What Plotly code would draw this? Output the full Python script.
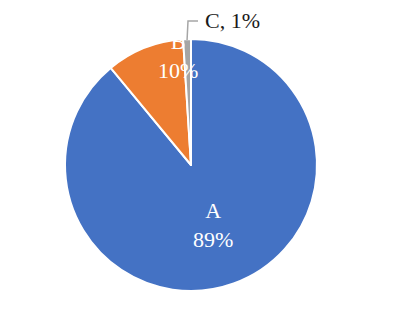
import math
import plotly.graph_objects as go

labels = ["A", "B", "C"]
values = [89, 10, 1]
colors = ["#4472C4", "#ED7D31", "#A5A5A5"]

W, H = 398, 316
cx, cy, R = 191, 165, 126

def px(x):
    return x / W

def py(y):
    return 1 - y / H

total = sum(values)
pct = [round(100 * v / total) for v in values]

fig = go.Figure(go.Pie(
    labels=labels, values=values, sort=False, direction="clockwise", rotation=0,
    marker=dict(colors=colors, line=dict(color="white", width=2)),
    textinfo="none", hoverinfo="label+percent",
    domain=dict(x=[px(cx - R), px(cx + R)], y=[py(cy + R), py(cy - R)]),
    showlegend=False,
))

font = "Liberation Serif, Times New Roman, serif"
ann = []
cum = 0
mids = []
for v in values:
    mids.append(2 * math.pi * (cum + v / 2) / total)
    cum += v
rA = 0.51 * R
ax = cx + rA * math.sin(mids[0])
ay = cy - rA * math.cos(mids[0])
ann.append(dict(x=px(ax), y=py(ay), xref="paper", yref="paper", showarrow=False,
                xanchor="center", yanchor="middle",
                text=f"{labels[0]}<br>{pct[0]}%", font=dict(family=font, size=22, color="white")))
ann.append(dict(x=px(178), y=py(56), xref="paper", yref="paper", showarrow=False,
                xanchor="center", yanchor="middle",
                text=f"{labels[1]}<br>{pct[1]}%", font=dict(family=font, size=22, color="white")))
ann.append(dict(x=px(203), y=py(20), xref="paper", yref="paper", showarrow=False,
                xanchor="left", yanchor="middle",
                text=f"{labels[2]}, {pct[2]}%", font=dict(family=font, size=22, color="#1a1a1a")))

sx = cx + (R - 1) * math.sin(mids[2])
sy = cy - (R - 1) * math.cos(mids[2])
path = f"M {px(sx)},{py(sy)} L {px(188)},{py(21)} L {px(198)},{py(21)}"

fig.update_layout(
    width=W, height=H, margin=dict(l=0, r=0, t=0, b=0),
    paper_bgcolor="white", plot_bgcolor="white",
    annotations=ann,
    shapes=[dict(type="path", path=path, xref="paper", yref="paper",
                 line=dict(color="#A6A6A6", width=1.5))],
)
fig.write_html("out.html")
